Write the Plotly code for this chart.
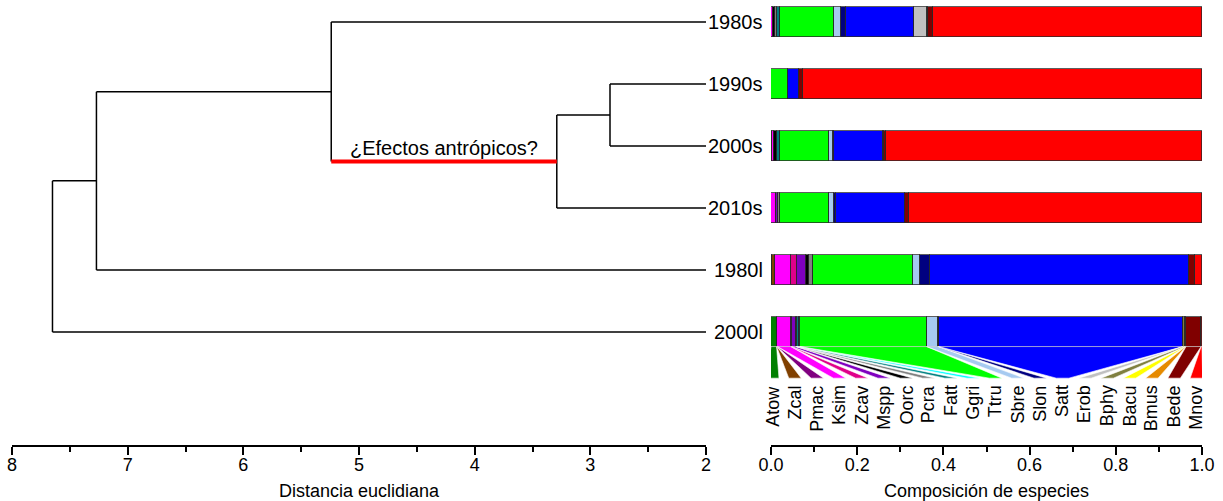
import plotly.graph_objects as go

# Groups (dendrogram leaves, top to bottom) and species in stacking order
groups = ["1980s", "1990s", "2000s", "2010s", "1980l", "2000l"]
species = ["Atow", "Zcal", "Pmac", "Ksim", "Zcav", "Mspp", "Oorc", "Pcra", "Fatt", "Ggri",
           "Ttru", "Sbre", "Slon", "Satt", "Erob", "Bphy", "Bacu", "Bmus", "Bede", "Mnov"]
species_colors = ["#008000", "#804000", "#800080", "#FF00FF", "#E0008A", "#7F00BF", "#000000",
                  "#808080", "#008080", "#00FFFF", "#00FF00", "#A6CAF0", "#000080", "#0000FF",
                  "#C0C0C0", "#808040", "#FFFF00", "#E68A00", "#800000", "#FF0000"]

# Species composition (proportions) per group, same order as `species`
comp_1980s = [0.000, 0.000, 0.000, 0.004, 0.000, 0.000, 0.005, 0.006, 0.005, 0.000,
              0.127, 0.015, 0.012, 0.158, 0.030, 0.003, 0.000, 0.000, 0.011, 0.624]
comp_1990s = [0.000, 0.000, 0.000, 0.000, 0.000, 0.000, 0.000, 0.000, 0.000, 0.000,
              0.040, 0.000, 0.000, 0.024, 0.002, 0.000, 0.000, 0.000, 0.009, 0.925]
comp_2000s = [0.000, 0.000, 0.002, 0.006, 0.000, 0.000, 0.006, 0.000, 0.008, 0.000,
              0.113, 0.009, 0.002, 0.114, 0.000, 0.002, 0.000, 0.000, 0.004, 0.734]
comp_2010s = [0.000, 0.000, 0.000, 0.011, 0.000, 0.005, 0.000, 0.005, 0.000, 0.000,
              0.114, 0.010, 0.006, 0.161, 0.000, 0.000, 0.000, 0.000, 0.008, 0.680]
comp_1980l = [0.003, 0.006, 0.000, 0.037, 0.015, 0.020, 0.006, 0.010, 0.000, 0.000,
              0.233, 0.015, 0.023, 0.602, 0.000, 0.000, 0.000, 0.000, 0.014, 0.016]
comp_2000l = [0.013, 0.001, 0.001, 0.031, 0.002, 0.010, 0.001, 0.001, 0.006, 0.001,
              0.294, 0.027, 0.001, 0.567, 0.001, 0.004, 0.001, 0.001, 0.035, 0.002]
compositions = [comp_1980s, comp_1990s, comp_2000s, comp_2010s, comp_1980l, comp_2000l]

# Hierarchical clustering: [child a, child b, distance]; leaves 0-5, new clusters from 6
merges = [[1, 2, 2.83],
          [6, 3, 3.29],
          [7, 0, 5.24],
          [8, 4, 7.27],
          [9, 5, 7.65]]
highlight_cluster = 7
highlight_label = "¿Efectos antrópicos?"

# Tick values of the two axes
dist_ticks = [8, 7, 6, 5, 4, 3, 2]
comp_ticks = [0.0, 0.2, 0.4, 0.6, 0.8, 1.0]

FONT = "Liberation Sans, Arial, sans-serif"
W, H = 1223, 501
bar_w = 0.47
fan_depth = 0.51
label_gap = 0.085

n = len(groups)
row_y = [n - 1 - i for i in range(n)]  # top row highest

fig = go.Figure()

# ---- dendrogram ----
nodes = {i: (0.0, row_y[i]) for i in range(n)}
black_x, black_y, red_x, red_y = [], [], [], []
red_mid = None
for k, (a, b, d) in enumerate(merges):
    xa, ya = nodes[a]
    xb, yb = nodes[b]
    for child, (xc, yc) in ((a, (xa, ya)), (b, (xb, yb))):
        if child == highlight_cluster:
            red_x += [xc, d, None]
            red_y += [yc, yc, None]
            red_mid = ((xc + d) / 2, yc)
        else:
            black_x += [xc, d, None]
            black_y += [yc, yc, None]
    black_x += [d, d, None]
    black_y += [ya, yb, None]
    nodes[n + k] = (d, (ya + yb) / 2)

fig.add_trace(go.Scatter(x=black_x, y=black_y, mode="lines",
                         line=dict(color="black", width=1.5),
                         xaxis="x", yaxis="y", hoverinfo="skip"))
fig.add_trace(go.Scatter(x=red_x, y=red_y, mode="lines",
                         line=dict(color="red", width=4),
                         xaxis="x", yaxis="y", hoverinfo="skip"))

# ---- stacked composition bars ----
for j, sp in enumerate(species):
    fig.add_trace(go.Bar(
        y=row_y, x=[c[j] for c in compositions], orientation="h", width=bar_w,
        marker=dict(color=species_colors[j], line=dict(color="rgba(40,40,40,0.75)", width=1)),
        name=sp, xaxis="x2", yaxis="y", hoverinfo="x+name"))

# ---- fan linking the last bar to the species labels ----
last = compositions[-1]
top_y = row_y[-1] - bar_w / 2
bot_y = top_y - fan_depth
ns = len(species)
pos0, pos1 = 0.004, 0.987
half = 0.0145
cum = 0.0
label_pos = []
for j, sp in enumerate(species):
    p = pos0 + (pos1 - pos0) * j / (ns - 1)
    label_pos.append(p)
    left, right = cum, cum + last[j]
    cum = right
    fig.add_trace(go.Scatter(
        x=[left, right, p + half, p - half, left],
        y=[top_y, top_y, bot_y, bot_y, top_y],
        mode="lines", fill="toself", fillcolor=species_colors[j],
        line=dict(color="white", width=0.6),
        xaxis="x2", yaxis="y", hoverinfo="skip"))

annotations = []
for p, sp in zip(label_pos, species):
    annotations.append(dict(x=p, y=bot_y - label_gap, xref="x2", yref="y", text=sp,
                            textangle=-90, xanchor="center", yanchor="top",
                            showarrow=False, font=dict(family=FONT, size=18, color="black")))

for g, y in zip(groups, row_y):
    annotations.append(dict(x=765 / W, y=y, xref="paper", yref="y", text=g,
                            xanchor="right", yanchor="middle", showarrow=False,
                            font=dict(family=FONT, size=20, color="black")))

annotations.append(dict(x=red_mid[0], y=red_mid[1], xref="x", yref="y",
                        text=highlight_label, xanchor="center", yanchor="bottom",
                        yshift=1, showarrow=False,
                        font=dict(family=FONT, size=20, color="black")))

axis_common = dict(showline=True, linecolor="black", linewidth=2, ticks="outside",
                   ticklen=8, tickwidth=2, tickcolor="black", showgrid=False,
                   zeroline=False, anchor="y", automargin=False, ticklabelstandoff=-6,
                   tickfont=dict(family=FONT, size=18, color="black"))

fig.update_layout(
    width=W, height=H,
    margin=dict(l=0, r=0, t=0, b=56, autoexpand=False),
    paper_bgcolor="white", plot_bgcolor="white",
    showlegend=False, barmode="stack", bargap=0,
    annotations=annotations,
    xaxis=dict(domain=[12 / W, 706 / W], range=[8, 2], tickvals=dist_ticks,
               ticktext=[str(t) for t in dist_ticks],
               minor=dict(dtick=0.5, ticks="outside", ticklen=5, tickwidth=2, tickcolor="black"),
               title=dict(text="Distancia euclidiana",
                          font=dict(family=FONT, size=18, color="black")),
               **axis_common),
    xaxis2=dict(domain=[771 / W, 1202 / W], range=[0, 1], tickvals=comp_ticks,
                ticktext=[f"{t:.1f}" for t in comp_ticks],
                minor=dict(dtick=0.1, ticks="outside", ticklen=5, tickwidth=2, tickcolor="black"),
                title=dict(text="Composición de especies",
                           font=dict(family=FONT, size=18, color="black")),
                **axis_common),
    yaxis=dict(range=[-1.823, 5.355], visible=False, domain=[0, 1], fixedrange=True),
)

fig.write_html("out.html")
